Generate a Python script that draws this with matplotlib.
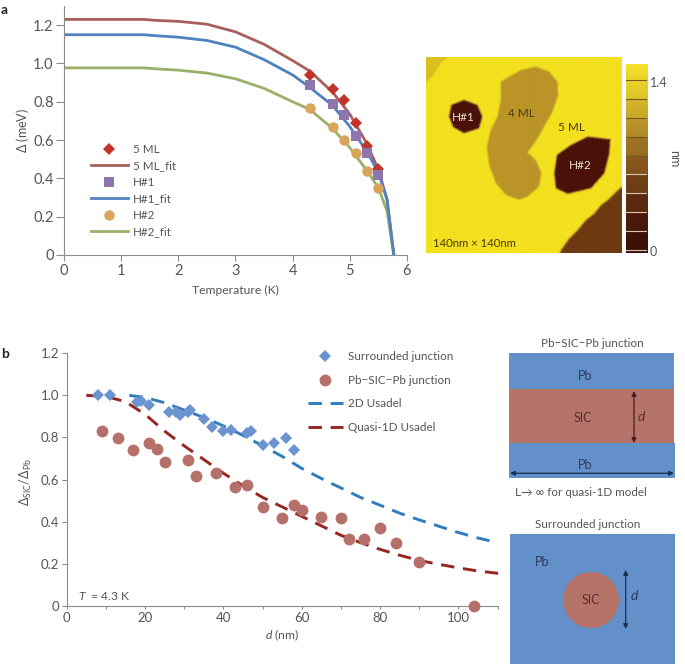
import numpy as np
import matplotlib
matplotlib.use("Agg")
import matplotlib.pyplot as plt
from matplotlib.colors import LinearSegmentedColormap, to_rgb
from matplotlib.patches import Rectangle, Circle
from matplotlib.path import Path
from matplotlib.ticker import MultipleLocator

plt.rcParams["font.family"] = ["Lato", "DejaVu Sans"]
plt.rcParams["mathtext.fontset"] = "custom"
plt.rcParams["mathtext.rm"] = "Lato"
plt.rcParams["mathtext.it"] = "Lato:italic"
plt.rcParams["mathtext.fallback"] = "stixsans"

W, H = 685, 664
GREY = "#555555"
AXIS = "#8c8c8c"

# panel a
T_points = [4.3, 4.7, 4.9, 5.1, 5.3, 5.5]
ml5_points = [0.94, 0.865, 0.81, 0.69, 0.57, 0.45]
h1_points = [0.885, 0.79, 0.73, 0.62, 0.53, 0.42]
h2_points = [0.77, 0.67, 0.60, 0.53, 0.44, 0.35]

T_fit = [0, 0.5, 1, 1.4, 1.6, 2, 2.5, 3, 3.5, 4, 4.3, 4.7, 5, 5.3, 5.5, 5.65, 5.77]
ml5_fit = [1.23, 1.23, 1.23, 1.23, 1.225, 1.22, 1.205, 1.165, 1.10, 1.015, 0.96, 0.85, 0.735, 0.58, 0.445, 0.29, 0]
h1_fit = [1.15, 1.15, 1.15, 1.15, 1.145, 1.137, 1.12, 1.085, 1.02, 0.94, 0.875, 0.78, 0.67, 0.54, 0.43, 0.29, 0]
h2_fit = [0.977, 0.977, 0.977, 0.977, 0.972, 0.965, 0.95, 0.92, 0.87, 0.80, 0.76, 0.66, 0.56, 0.44, 0.35, 0.23, 0]

# panel b
d_surr = [8, 11, 18, 19, 21, 26, 28, 29, 31, 31.5, 35, 37, 40, 42, 46, 47, 50, 53, 56, 58]
r_surr = [1.0, 1.0, 0.967, 0.973, 0.955, 0.922, 0.922, 0.905, 0.922, 0.93, 0.89, 0.848,
          0.83, 0.835, 0.82, 0.832, 0.762, 0.772, 0.797, 0.738]
d_junc = [9, 13, 17, 21, 23, 25, 31, 33, 38, 43, 46, 50, 55, 58, 60, 65, 70, 72, 76, 80, 84, 90, 104]
r_junc = [0.83, 0.795, 0.738, 0.775, 0.743, 0.683, 0.693, 0.617, 0.629, 0.564, 0.574, 0.469,
          0.418, 0.48, 0.455, 0.422, 0.415, 0.319, 0.317, 0.368, 0.30, 0.206, 0]
d_2d = [16, 20, 25, 30, 35, 40, 45, 50, 55, 60, 65, 70, 75, 80, 85, 90, 95, 100, 105, 110]
r_2d = [1.0, 0.99, 0.965, 0.93, 0.895, 0.855, 0.81, 0.76, 0.71, 0.653, 0.605, 0.56, 0.515,
        0.478, 0.44, 0.408, 0.378, 0.348, 0.322, 0.30]
d_1d = [5, 10, 15, 20, 25, 30, 35, 40, 45, 50, 55, 60, 65, 70, 75, 80, 85, 90, 95, 100, 105, 112]
r_1d = [1.0, 0.995, 0.97, 0.91, 0.83, 0.76, 0.695, 0.63, 0.57, 0.515, 0.47, 0.425, 0.38,
        0.335, 0.30, 0.268, 0.24, 0.215, 0.197, 0.18, 0.165, 0.15]

# AFM map outlines, in zoomed map units
ml4_outline = [(240, 125), (300, 90), (345, 80), (385, 95), (410, 125), (412, 165), (395, 215),
               (370, 260), (345, 305), (320, 338), (345, 360), (362, 400), (355, 440), (320, 470),
               (295, 480), (255, 465), (225, 430), (205, 375), (198, 320), (210, 270), (230, 230),
               (240, 180)]
hole1_outline = [(130, 180), (170, 195), (185, 230), (175, 265), (130, 280), (98, 262), (85, 230), (92, 195)]
hole2_outline = [(500, 290), (568, 298), (565, 340), (550, 400), (510, 445), (440, 462), (405, 445),
                 (400, 400), (408, 345), (450, 315)]
terrace_outline = [(603, 440), (585, 455), (560, 480), (540, 495), (520, 520), (495, 540), (470, 570),
                   (445, 595), (420, 630), (415, 645), (610, 645)]
corner_outline = [(10, 45), (90, 45), (60, 70), (35, 110), (10, 135)]
afm_colors = ["#4a1208", "#6e3a10", "#a5761c", "#bb9428", "#d9c020", "#f3e01e"]
bar_bands = ["#f0dc28", "#e2cc28", "#cfae28", "#b8902a", "#9b7020", "#86551c", "#6e3e14", "#5c2a10", "#4a1a0c", "#3e1208"]


def axes_px(x0, y0, x1, y1):
    return fig.add_axes([x0 / W, 1 - y1 / H, (x1 - x0) / W, (y1 - y0) / H])


def style_axes(ax, size, ylen, xlen):
    for side in ["top", "right"]:
        ax.spines[side].set_visible(False)
    for side in ["left", "bottom"]:
        ax.spines[side].set_color(AXIS)
        ax.spines[side].set_linewidth(0.8)
    ax.tick_params(which="both", color=AXIS, width=0.8, labelsize=size, labelcolor=GREY, pad=2)
    ax.tick_params(axis="y", which="major", length=ylen, direction="out")
    ax.tick_params(axis="x", which="major", length=xlen, direction="out")


fig = plt.figure(figsize=(W / 100, H / 100), dpi=100)

# a: gap against temperature
ax_a = axes_px(64, 6, 407, 255)
ax_a.set_xlim(0, 6)
ax_a.set_ylim(0, 1.3)
style_axes(ax_a, 10.5, 5.5, 4.5)
ax_a.plot(T_points, ml5_points, "D", color="#c0342a", ms=6.5, mew=0, label="5 ML", zorder=3)
ax_a.plot(T_fit, ml5_fit, color="#a8605c", lw=2, label="5 ML_fit", zorder=2)
ax_a.plot(T_points, h1_points, "s", color="#8d75ad", ms=6.5, mew=0, label="H#1", zorder=3)
ax_a.plot(T_fit, h1_fit, color="#4f82bf", lw=2, label="H#1_fit", zorder=2.2)
ax_a.plot(T_points, h2_points, "o", color="#d9a45c", ms=7.5, mew=0, label="H#2", zorder=3)
ax_a.plot(T_fit, h2_fit, color="#9bb069", lw=2, label="H#2_fit", zorder=2.1)
ax_a.set_xticks(range(7))
ax_a.set_yticks([0, 0.2, 0.4, 0.6, 0.8, 1.0, 1.2])
ax_a.set_yticklabels(["0", "0.2", "0.4", "0.6", "0.8", "1.0", "1.2"])
ax_a.set_xlabel("Temperature (K)", fontsize=8.7, color=GREY)
ax_a.xaxis.set_label_coords(0.5, -30 / 249)
ax_a.set_ylabel(r"$\mathit{\Delta}$ (meV)", fontsize=9, color=GREY)
ax_a.yaxis.set_label_coords(-33 / 343, 0.5)
ax_a.legend(loc="upper left", bbox_to_anchor=(0.078, 0.447), frameon=False, fontsize=8.4, labelcolor=GREY,
            handlelength=3.2, handletextpad=0.45, labelspacing=0.47, borderpad=0, borderaxespad=0)

# a: AFM map, rasterised from the outlines
gx, gy = np.meshgrid(np.arange(17, 603, 1.5), np.arange(52, 640, 1.5))
pts = np.column_stack([gx.ravel(), gy.ravel()])
height = np.full(gx.shape, 5.0)
for outline, level in [(corner_outline, 4), (terrace_outline, 1), (ml4_outline, 3),
                       (hole1_outline, 0), (hole2_outline, 0)]:
    height[Path(outline).contains_points(pts).reshape(gx.shape)] = level
for axis in (0, 1):
    height = np.apply_along_axis(lambda v: np.convolve(np.pad(v, 2, mode="edge"), np.ones(5) / 5, "valid"), axis, height)
afm_cmap = LinearSegmentedColormap.from_list("afm", afm_colors)
ax_map = axes_px(425.7, 57.3, 621, 253.3)
ax_map.imshow(height, cmap=afm_cmap, vmin=0, vmax=5, extent=(17, 603, 640, 52), aspect="auto", interpolation="bilinear")
ax_map.axis("off")
ax_map.text(303, 220, "4 ML", color="#4a3a12", fontsize=8.5, ha="center", va="center")
ax_map.text(455, 263, "5 ML", color="#4a3a12", fontsize=8.5, ha="center", va="center")
ax_map.text(130, 232, "H#1", color="#e8dcd0", fontsize=8.5, ha="center", va="center")
ax_map.text(482, 378, "H#2", color="#e8dcd0", fontsize=8.5, ha="center", va="center")
ax_map.text(38, 610, "140nm × 140nm", color="#4a3a12", fontsize=8.2, ha="left", va="center")

# a: colour bar, one shaded block per band
bar_top, bar_bottom = 1.532, -0.022
band_step = 1.4 / 9
rows = np.linspace(bar_top, bar_bottom, 300)
bar_img = np.zeros((300, 1, 3))
for k, level in enumerate(rows):
    idx = int(np.clip((1.4 + band_step - level) // band_step, 0, len(bar_bands) - 1))
    frac = (1.4 + band_step - level) / band_step - idx
    bar_img[k, 0] = np.clip(np.array(to_rgb(bar_bands[idx])) * (1.04 - 0.08 * frac), 0, 1)
ax_bar = axes_px(626, 64, 647.3, 252.7)
ax_bar.imshow(bar_img, extent=(0, 1, bar_bottom, bar_top), aspect="auto")
ax_bar.set_xticks([])
ax_bar.yaxis.tick_right()
ax_bar.set_yticks([-0.01, 1.38])
ax_bar.set_yticklabels(["0", "1.4"])
ax_bar.tick_params(axis="y", length=0, pad=2, labelsize=9, labelcolor=GREY)
for spine in ax_bar.spines.values():
    spine.set_visible(False)
for n in range(10):
    level = n * band_step
    ax_bar.axhline(level, color="#6e5a20" if level > 0.7 else "#d8c8b0", lw=0.8)
ax_bar.yaxis.set_label_position("right")
ax_bar.set_ylabel("nm", rotation=270, fontsize=9, color=GREY, va="center")
ax_bar.yaxis.set_label_coords(48 / 21.3, 0.5)

# b: gap ratio against thickness
ax_b = axes_px(66.7, 353.3, 497.5, 605.7)
ax_b.set_xlim(0, 110)
ax_b.set_ylim(0, 1.2)
style_axes(ax_b, 9.5, 3.6, 2.5)
ax_b.plot(d_surr, r_surr, "D", color="#6b93cf", ms=6.5, mew=0, label="Surrounded junction", zorder=3, clip_on=False)
ax_b.plot(d_junc, r_junc, "o", color="#b5706a", ms=8.5, mew=0, label="Pb−SIC−Pb junction", zorder=3, clip_on=False)
ax_b.plot(d_2d, r_2d, color="#2f7dbd", lw=2.1, ls=(0, (4.6, 3)), label="2D Usadel", zorder=2)
ax_b.plot(d_1d, r_1d, color="#96261f", lw=2.1, ls=(0, (4.6, 3)), label="Quasi-1D Usadel", zorder=2, clip_on=False)
ax_b.set_xticks(range(0, 101, 20))
ax_b.xaxis.set_minor_locator(MultipleLocator(10))
ax_b.tick_params(axis="x", which="minor", length=2, direction="out")
ax_b.set_yticks([0, 0.2, 0.4, 0.6, 0.8, 1.0, 1.2])
ax_b.set_yticklabels(["0", "0.2", "0.4", "0.6", "0.8", "1.0", "1.2"])
ax_b.set_xlabel(r"$\mathit{d}$ (nm)", fontsize=8.7, color=GREY)
ax_b.xaxis.set_label_coords(0.5, -21.5 / 252.4)
ax_b.set_ylabel(r"$\mathit{\Delta}_{\mathrm{SIC}}/\mathit{\Delta}_{\mathrm{Pb}}$", fontsize=9, color=GREY)
ax_b.yaxis.set_label_coords(-32.5 / 430.8, 0.49)
ax_b.text(3, 0.045, r"$\mathit{T}$  = 4.3 K", fontsize=8.7, color=GREY, va="center")
ax_b.legend(loc="upper left", bbox_to_anchor=(0.56, 1.009), frameon=False, fontsize=8.4, labelcolor=GREY,
            handlelength=3.0, handletextpad=0.45, labelspacing=1.08, borderpad=0, borderaxespad=0)

# schematics and panel letters, drawn in pixel coordinates
ax_s = fig.add_axes([0, 0, 1, 1], zorder=-1)
ax_s.set_xlim(0, W)
ax_s.set_ylim(H, 0)
ax_s.axis("off")
BLUE = "#6390c9"
SIC = "#b5736a"
NAVY = "#1c2d55"
ax_s.add_patch(Rectangle((509, 353.3), 164.7, 36, color=BLUE, lw=0))
ax_s.add_patch(Rectangle((509, 389.3), 164.7, 53.4, color=SIC, lw=0))
ax_s.add_patch(Rectangle((509, 442.7), 166, 35.6, color=BLUE, lw=0))
ax_s.add_patch(Rectangle((510.3, 534.3), 164.7, 130, color=BLUE, lw=0))
ax_s.add_patch(Circle((591, 600), 28, color=SIC, lw=0))


def arrow(x0, y0, x1, y1, color):
    ax_s.annotate("", xy=(x1, y1), xytext=(x0, y0),
                  arrowprops=dict(arrowstyle="<|-|>", color=color, lw=0.9, mutation_scale=7, shrinkA=0, shrinkB=0))


arrow(634, 391, 634, 443, "#4a1a20")
arrow(510, 473.3, 674, 473.3, NAVY)
arrow(625.7, 570, 625.7, 629, NAVY)

labels_dark = [(585, 375.5, "Pb"), (583, 418, "SIC"), (585, 465, "Pb"), (591, 600, "SIC"), (542, 562, "Pb")]
for x, y, s in labels_dark:
    ax_s.text(x, y, s, fontsize=9, ha="center", va="center", color="#2d3a66" if s == "Pb" else "#5a2f30")
ax_s.text(642, 416, r"$\mathit{d}$", fontsize=10, ha="center", va="center", color="#5a2f30")
ax_s.text(635, 595, r"$\mathit{d}$", fontsize=10, ha="center", va="center", color="#2d3a66")
ax_s.text(592, 343.5, "Pb−SIC−Pb junction", fontsize=8.4, ha="center", va="center", color=GREY)
ax_s.text(588, 525, "Surrounded junction", fontsize=8.4, ha="center", va="center", color=GREY)
ax_s.text(515, 492.5, "L→ ∞ for quasi-1D model", fontsize=8.4, ha="left", va="center", color=GREY)
ax_s.text(1, 10, "a", fontsize=10, fontweight="bold", va="center", color="#222222")
ax_s.text(1, 354.5, "b", fontsize=10, fontweight="bold", va="center", color="#222222")

fig.savefig("out.png", dpi=100)
